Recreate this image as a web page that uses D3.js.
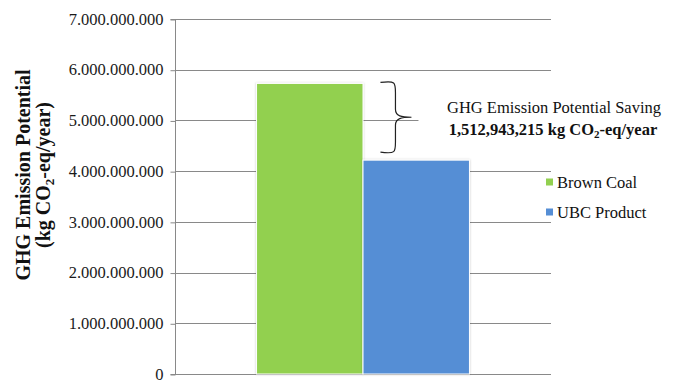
<!DOCTYPE html>
<html><head><meta charset="utf-8">
<script src="https://cdn.jsdelivr.net/npm/d3@7"></script>
<style>
html,body{margin:0;padding:0;background:#fff;}
svg{display:block;}
svg text{font-family:"Liberation Serif","Times New Roman","DejaVu Serif",serif !important;}
</style></head>
<body>
<svg id="chart" width="676" height="380"></svg>
<script>
const categories = ["GHG"];
const seriesNames = ["Brown Coal", "UBC Product"];
const seriesValues = [5730000000, 4217000000];
const seriesColors = ["#92D050", "#558ED5"];
const yTicks = [0, 1e9, 2e9, 3e9, 4e9, 5e9, 6e9, 7e9];
const savingLabel = ["GHG Emission Potential Saving", "1,512,943,215"];

(function(){
const svg = d3.select("#chart");
const mLeft = 175, mRight = 551, mTop = 19, mBottom = 374;

const y = d3.scaleLinear().domain([0, 7e9]).range([mBottom, mTop]);
const x0 = d3.scaleBand().domain(categories).range([mLeft, mRight]).paddingOuter(0.383).paddingInner(0);
const x1 = d3.scaleBand().domain(seriesNames).range([0, x0.bandwidth()]).padding(0);

const fmt = v => d3.format(",")(v).replace(/,/g, ".");

// gridlines
svg.append("g").selectAll("line").data(yTicks).join("line")
  .attr("x1", mLeft).attr("x2", mRight)
  .attr("y1", d => Math.round(y(d)) + 0.5).attr("y2", d => Math.round(y(d)) + 0.5)
  .attr("stroke", "#898989").attr("stroke-width", 1);

// y axis
const yAxis = d3.axisLeft(y).tickValues(yTicks).tickFormat(fmt).tickSize(5).tickPadding(7);
const gy = svg.append("g").attr("transform", `translate(${mLeft + 0.5},0)`).call(yAxis);
gy.attr("font-family", null);
gy.select(".domain").attr("stroke", "#898989").attr("d", `M-5,${Math.round(y(0))+0.5}H0V${Math.round(y(7e9))+0.5}H-5`);
gy.selectAll(".tick line").attr("stroke", "#898989").attr("transform", "translate(0,0.5)");
gy.selectAll(".tick text").attr("font-size", 16.5).attr("fill", "#1a1a1a");

// shadow filter
const defs = svg.append("defs");
const f = defs.append("filter").attr("id", "sh").attr("x", "-10%").attr("y", "-10%").attr("width", "120%").attr("height", "120%");
f.append("feDropShadow").attr("dx", 0).attr("dy", 0).attr("stdDeviation", 1.2).attr("flood-color", "#000").attr("flood-opacity", 0.22);

// bars
const g = svg.append("g");
categories.forEach(cat => {
  g.selectAll("rect.bar").data(seriesNames.map((s, i) => ({s, v: seriesValues[i], c: seriesColors[i]})))
    .join("rect").attr("class", "bar")
    .attr("x", d => x0(cat) + x1(d.s))
    .attr("y", d => y(d.v))
    .attr("width", x1.bandwidth())
    .attr("height", d => y(0) - y(d.v))
    .attr("fill", d => d.c)
    .attr("stroke", "#fff").attr("stroke-width", 1)
    .attr("filter", "url(#sh)");
});

// brace
const bTop = y(seriesValues[0]) - 1, bBot = y(seriesValues[1]) - 8, bMid = (bTop + bBot) / 2;
const bx = x0(categories[0]) + x0.bandwidth() - 89;
const bv = bx + 15, tip = bx + 31;
svg.append("path")
  .attr("d", `M${bx},${bTop} C${bv},${bTop-2} ${bv},${bTop} ${bv},${bTop+10} L${bv},${bMid-8} C${bv},${bMid-1} ${bv+6},${bMid} ${tip},${bMid}`
    + ` M${bx},${bBot} C${bv},${bBot+2} ${bv},${bBot} ${bv},${bBot-10} L${bv},${bMid+8} C${bv},${bMid+1} ${bv+6},${bMid} ${tip},${bMid}`)
  .attr("fill", "none").attr("stroke", "#222").attr("stroke-width", 1.2);

// annotation text box (covers gridline)
svg.append("rect").attr("x", tip + 7).attr("y", bMid - 20).attr("width", 676 - tip - 7).attr("height", 42).attr("fill", "#fff");
svg.append("text").attr("text-anchor", "middle").attr("font-size", 16.5).attr("fill", "#111")
  .attr("x", 554).attr("y", 113).text(savingLabel[0]);
const ann2 = svg.append("text").attr("text-anchor", "middle").attr("font-size", 16.5).attr("fill", "#111")
  .attr("font-weight", "bold").attr("x", 553).attr("y", 135);
ann2.append("tspan").text(savingLabel[1] + " kg CO");
ann2.append("tspan").attr("font-size", 11).attr("dy", 3).text("2");
ann2.append("tspan").attr("dy", -3).text("-eq/year");

// legend
const lg = svg.append("g");
seriesNames.forEach((s, i) => {
  const yy = 182 + i * 30;
  lg.append("rect").attr("x", 546).attr("y", yy - 3.5).attr("width", 7).attr("height", 7).attr("fill", seriesColors[i]);
  lg.append("text").attr("x", 557).attr("y", yy + 6).attr("font-size", 16.5).attr("fill", "#111").text(s);
});

// axis title
svg.append("text").attr("transform", "translate(30,175) rotate(-90)").attr("text-anchor", "middle")
  .attr("font-size", 20).attr("font-weight", "bold").attr("fill", "#111").text("GHG Emission Potential");
const t2 = svg.append("text").attr("transform", "translate(50,175) rotate(-90)").attr("text-anchor", "middle")
  .attr("font-size", 20).attr("font-weight", "bold").attr("fill", "#111");
t2.append("tspan").text("(kg CO");
t2.append("tspan").attr("font-size", 13).attr("dy", 4).text("2");
t2.append("tspan").attr("dy", -4).text("-eq/year)");
})();
</script>
</body></html>
